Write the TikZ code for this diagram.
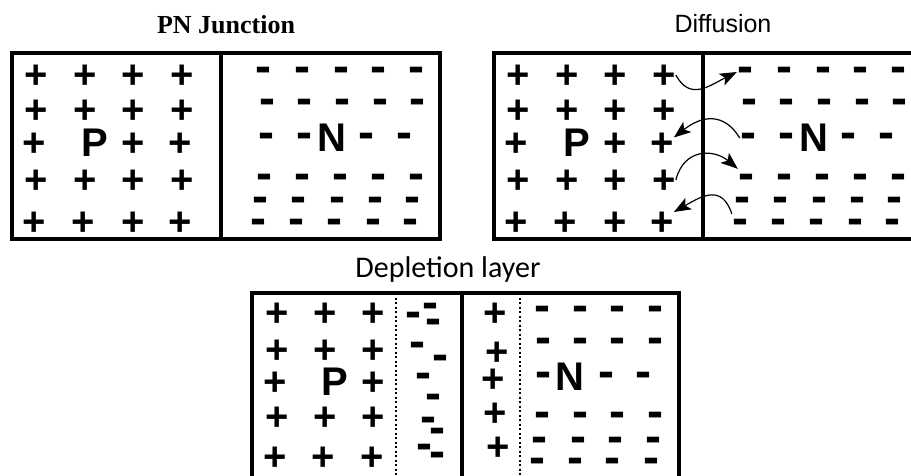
\documentclass[tikz,border=0pt]{standalone}
\usepackage{fontspec}
\usepackage{tikz}
\usetikzlibrary{arrows.meta}
\setmainfont{Liberation Sans}
\newfontfamily\timesbold{Liberation Serif}
\newfontfamily\calibrifont{Carlito}
\newcommand{\signtype}{\bfseries\fontsize{40}{40}\selectfont}
\newcommand{\dashtype}{\bfseries\fontsize{48}{48}\selectfont}

\begin{document}
\begin{tikzpicture}[x=1pt, y=-1pt,
  box/.style={line width=3.5pt},
  layer/.style={line width=1.4pt, dash pattern=on 2pt off 2.5pt},
  plus/.style={font=\signtype, inner sep=0pt, text height=26pt, text depth=-2pt},
  minus/.style={font=\dashtype, inner sep=0pt, text height=20pt, text depth=-8pt},
  hop/.style={line width=1.2pt, -{Stealth[length=17pt,width=13pt,inset=4pt]}}]

% Pagina
\useasboundingbox (0,0) rectangle (911,475);
\clip (0,0) rectangle (911,475);

% Titoli
\node[anchor=base, font=\timesbold\bfseries\fontsize{26}{26}\selectfont] (t1) at (226,33) {PN Junction};
\node[anchor=base, font=\fontsize{25}{25}\selectfont] (t2) at (723,32) {Diffusion};
\node[anchor=base, font=\calibrifont\fontsize{30}{30}\selectfont] (t3) at (448,277) {Depletion layer};

% PN Junction (a) e Diffusion (b): stesso blocco spostato
\foreach \dx/\pn in {0/a, 482/b}{
  \begin{scope}[xshift=\dx pt]
    \draw[box] (12,53) rectangle (440,239);
    \draw[box] (221,53) -- (221,239);
    % lato P
    \foreach \x [count=\c] in {36,85,133,182} \node[plus] (\pn-p1-\c) at (\x,75) {+};
    \foreach \x [count=\c] in {36,85,133,182} \node[plus] (\pn-p2-\c) at (\x,110) {+};
    \foreach \x [count=\c] in {34,133,180} \node[plus] (\pn-p3-\c) at (\x,143) {+};
    \foreach \x [count=\c] in {36,85,133,182} \node[plus] (\pn-p4-\c) at (\x,180) {+};
    \foreach \x [count=\c] in {34,83,133,180} \node[plus] (\pn-p5-\c) at (\x,222) {+};
    \node[plus] (\pn-P) at (95,143) {P};
    % lato N
    \foreach \x [count=\c] in {263,302,341,378,416} \node[minus] (\pn-m1-\c) at (\x,72) {-};
    \foreach \x [count=\c] in {267,304,342,380,417} \node[minus] (\pn-m2-\c) at (\x,104) {-};
    \foreach \x [count=\c] in {266,304,366,404} \node[minus] (\pn-m3-\c) at (\x,138) {-};
    \foreach \x [count=\c] in {264,302,340,378,416} \node[minus] (\pn-m4-\c) at (\x,179) {-};
    \foreach \x [count=\c] in {260,298,337,375,412} \node[minus] (\pn-m5-\c) at (\x,202) {-};
    \foreach \x [count=\c] in {258,296,334,373,410} \node[minus] (\pn-m6-\c) at (\x,224) {-};
    \node[plus] (\pn-N) at (332,138) {N};
  \end{scope}
}

% Frecce di diffusione
\draw[hop] (b-p1-4.east) .. controls +(14,26) and +(-28,14) .. (b-m1-1.west);
\draw[hop] (b-m3-1.west) .. controls +(-16,-26) and +(28,-22) .. (b-p3-3.25);
\draw[hop] (b-p4-4.east) .. controls +(8,-32) and +(-24,-20) .. (b-m4-1.north west);
\draw[hop] (b-m6-1.north west) .. controls +(-10,-30) and +(28,-16) .. (b-p5-4.40);

% Depletion layer
\draw[box] (252,293) rectangle (679,482);
\draw[box] (462,293) -- (462,482);
\draw[layer] (396,293) -- (396,482);
\draw[layer] (520,293) -- (520,482);

% lato P
\foreach \x [count=\c] in {277,325,373} \node[plus] (c-p1-\c) at (\x,313) {+};
\foreach \x [count=\c] in {277,325,373} \node[plus] (c-p2-\c) at (\x,350) {+};
\foreach \x [count=\c] in {275,373} \node[plus] (c-p3-\c) at (\x,382) {+};
\foreach \x [count=\c] in {277,325,373} \node[plus] (c-p4-\c) at (\x,417) {+};
\foreach \x [count=\c] in {275,323,372} \node[plus] (c-p5-\c) at (\x,457) {+};
\node[plus] (c-P) at (335,382) {P};

% cariche negative nella zona di svuotamento
\foreach \x/\y [count=\c] in {413/317, 430/308, 433/324, 417/347, 440/360, 423/378,
  433/399, 428/422, 437/433, 424/449, 437/457}
  \node[minus] (c-q-\c) at (\x,\y) {-};

% cariche positive nella zona di svuotamento
\foreach \x/\y [count=\c] in {495/313, 497/352, 493/379, 495/413, 498/447}
  \node[plus] (c-r-\c) at (\x,\y) {+};

% lato N
\foreach \x [count=\c] in {542,580,617,655} \node[minus] (c-m1-\c) at (\x,311) {-};
\foreach \x [count=\c] in {543,580,617,655} \node[minus] (c-m2-\c) at (\x,343) {-};
\foreach \x [count=\c] in {543,606,643} \node[minus] (c-m3-\c) at (\x,377) {-};
\foreach \x [count=\c] in {542,580,617,655} \node[minus] (c-m4-\c) at (\x,417) {-};
\foreach \x [count=\c] in {539,578,615,653} \node[minus] (c-m5-\c) at (\x,442) {-};
\foreach \x [count=\c] in {537,575,612,651} \node[minus] (c-m6-\c) at (\x,463) {-};
\node[plus] (c-N) at (570,377) {N};

\end{tikzpicture}
\end{document}
